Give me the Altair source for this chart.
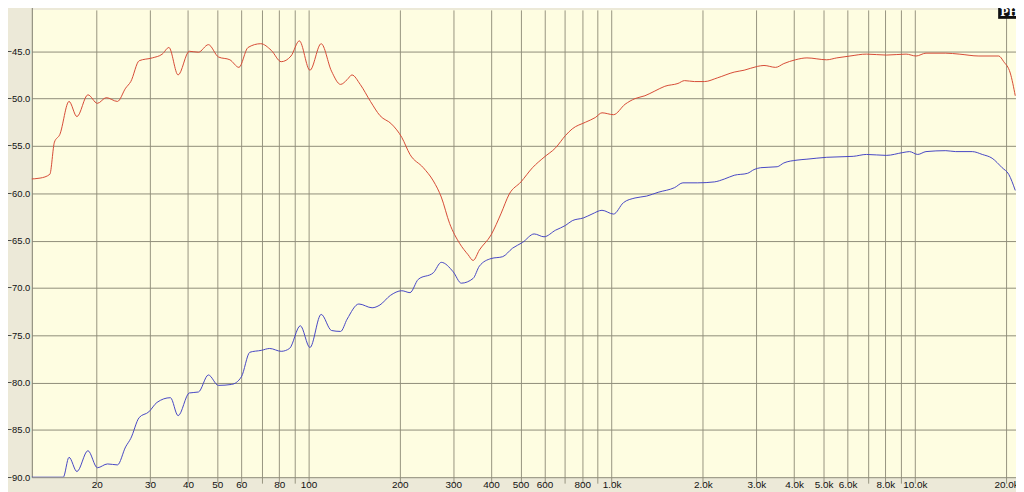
import altair as alt
import pandas as pd

# Frequency response, upper (red) trace: frequency in Hz, level in dB
red_f = [12.0, 13.0, 14.0, 14.5, 15.1, 16.2, 17.2, 18.7, 20.1, 21.5, 23.4, 24.9, 25.9, 27.6,
         30.5, 32.9, 34.6, 37.1, 40.4, 43.3, 46.7, 50.4, 55.0, 58.9, 63.1, 69.5, 75.3, 81.2,
         87.5, 93.2, 101, 110, 119, 127.5, 134, 139, 148, 160, 172, 188, 203, 216, 239, 258,
         274, 292, 315, 336, 349, 366, 400, 432, 459, 502, 548, 598, 653, 704, 741, 819, 883,
         929, 1014, 1107, 1194, 1287, 1388, 1497, 1655, 1740, 1876, 2024, 2237, 2537, 2735,
         3024, 3181, 3474, 3698, 4038, 4408, 5125, 5526, 6114, 6927, 8055, 9365, 10100, 10890,
         12660, 14010, 16280, 18930, 19660, 20660, 21460]
red_db = [-58.5, -58.4, -58.0, -54.6, -53.8, -50.3, -51.9, -49.6, -50.5, -49.9, -50.3, -48.9,
          -48.2, -46.0, -45.7, -45.3, -44.6, -47.5, -45.0, -45.1, -44.3, -45.6, -45.9, -46.7,
          -44.6, -44.2, -44.9, -46.1, -45.5, -43.9, -47.0, -44.2, -47.1, -48.5, -48.0, -47.5,
          -48.5, -50.3, -51.8, -52.7, -54.1, -55.9, -57.3, -58.7, -60.4, -63.2, -65.3, -66.5,
          -67.1, -66.0, -64.4, -62.1, -60.1, -58.8, -57.3, -56.2, -55.2, -53.9, -53.2, -52.5,
          -52.0, -51.5, -51.7, -50.6, -50.0, -49.7, -49.2, -48.7, -48.4, -48.1, -48.2, -48.2,
          -47.8, -47.2, -47.0, -46.6, -46.5, -46.7, -46.3, -45.9, -45.7, -45.9, -45.7, -45.5,
          -45.3, -45.4, -45.3, -45.5, -45.2, -45.2, -45.3, -45.5, -45.5, -46.1, -47.3, -49.7]

# Lower (blue) trace
blue_f = [12.0, 15.5, 16.2, 17.2, 18.7, 20.1, 21.7, 23.4, 24.9, 25.9, 27.6, 29.7, 31.6, 35.0,
          37.1, 40.4, 43.3, 46.7, 50.4, 55.7, 60.0, 64.0, 69.8, 74.4, 81.2, 86.5, 93.9, 101,
          110, 119, 127.5, 134, 146.5, 162, 172, 186, 203, 216, 230, 258, 274, 300, 319, 349,
          366, 400, 437, 471, 508, 555, 598, 653, 704, 741, 808, 861, 929, 1014, 1093, 1194,
          1304, 1423, 1614, 1718, 1924, 2182, 2353, 2537, 2804, 2949, 3102, 3516, 3698, 4088,
          4408, 5125, 6266, 6927, 8055, 9135, 9607, 10230, 10890, 12660, 13650, 15480, 16700,
          18000, 19420, 20420, 21460]
blue_db = [-90.0, -90.0, -87.9, -89.4, -87.2, -89.0, -88.6, -88.7, -86.8, -85.9, -83.7, -83.1,
           -82.1, -81.6, -83.5, -81.1, -81.0, -79.2, -80.3, -80.2, -79.4, -76.8, -76.6, -76.4,
           -76.7, -76.4, -74.0, -76.3, -72.8, -74.5, -74.6, -73.3, -71.7, -72.1, -71.8, -70.8,
           -70.3, -70.5, -69.1, -68.4, -67.3, -68.3, -69.5, -69.0, -67.7, -66.9, -66.7, -65.8,
           -65.2, -64.3, -64.6, -63.9, -63.4, -62.9, -62.6, -62.2, -61.8, -62.2, -61.0, -60.5,
           -60.3, -59.9, -59.4, -58.9, -58.9, -58.8, -58.5, -58.1, -57.9, -57.5, -57.3, -57.2,
           -56.8, -56.5, -56.4, -56.2, -56.1, -55.9, -56.0, -55.7, -55.6, -55.9, -55.6, -55.5,
           -55.6, -55.6, -55.9, -56.3, -57.3, -58.0, -59.7]

x_grid = [20, 30, 40, 50, 60, 70, 80, 90, 100, 200, 300, 400, 500, 600, 700, 800, 900,
          1000, 2000, 3000, 4000, 5000, 6000, 7000, 8000, 9000, 10000, 20000]
y_ticks = [-90, -85, -80, -75, -70, -65, -60, -55, -50, -45, -40]

df = pd.concat([
    pd.DataFrame({"freq": red_f, "db": red_db, "series": "red", "order": range(len(red_f))}),
    pd.DataFrame({"freq": blue_f, "db": blue_db, "series": "blue", "order": range(len(blue_f))}),
])

x_scale = alt.Scale(type="log", domain=[12.21, 21580], nice=False)
y_scale = alt.Scale(domain=[-90, -40], range=[471, -6], nice=False, zero=False)

label_expr = ("indexof([70,90,700,900,7000,9000], datum.value) >= 0 ? '' : "
              "(datum.value >= 1000 ? format(datum.value/1000, '.1f') + 'k' : format(datum.value, 'd'))")

lines = alt.Chart(df).mark_line(strokeWidth=1, interpolate="monotone", clip=True).encode(
    x=alt.X("freq:Q", scale=x_scale,
            axis=alt.Axis(values=x_grid, labelExpr=label_expr, grid=True, gridColor="#97947f",
                          gridOpacity=1, gridWidth=1, ticks=False, domain=False, title=None,
                          labelFont="Liberation Sans", labelFontSize=10, labelColor="#111111",
                          labelPadding=2, labelOverlap=False, labelFlush=False)),
    y=alt.Y("db:Q", scale=y_scale,
            axis=alt.Axis(values=y_ticks, format=".1f", grid=True, gridColor="#8f8d79",
                          gridOpacity=1, gridWidth=1, ticks=False, domain=True,
                          domainColor="#7c7a6c", title=None, labelFont="Liberation Sans",
                          labelFontSize=9.5, labelColor="#111111", labelPadding=2,
                          labelOverlap=False, labelFlush=False)),
    color=alt.Color("series:N", scale=alt.Scale(domain=["red", "blue"],
                                                range=["#d64a36", "#4646c4"]), legend=None),
    detail="series:N",
    order="order:Q",
)

badge_data = alt.Data(values=[{"t": "PH"}])
badge_box = alt.Chart(badge_data).mark_rect(color="#111111").encode(
    x=alt.value(974), x2=alt.value(992), y=alt.value(-3), y2=alt.value(9))
badge_text = alt.Chart(badge_data).mark_text(
    color="white", font="DejaVu Serif", fontWeight="bold", fontSize=11, align="left",
    baseline="middle").encode(x=alt.value(976), y=alt.value(3), text="t:N")

chart = alt.layer(lines, badge_box, badge_text).properties(
    width=992, height=471,
    padding={"left": 24, "top": 0, "right": 0, "bottom": 13},
    autosize="none",
    background="#ece9d8",
).configure_view(fill="#fefde1", stroke=None)

chart.save("out.html", embed_options={"renderer": "svg", "actions": False})
